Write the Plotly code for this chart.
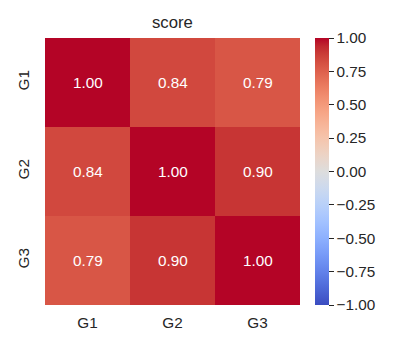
import plotly.graph_objects as go

labels = ["G1", "G2", "G3"]
scores = [
    [1.00, 0.84, 0.79],
    [0.84, 1.00, 0.90],
    [0.79, 0.90, 1.00],
]
title_text = "score"
cbar_ticks = [-1.0, -0.75, -0.5, -0.25, 0.0, 0.25, 0.5, 0.75, 1.0]

coolwarm_rgb = [
    (59, 76, 192), (68, 90, 204), (77, 104, 215), (87, 117, 225), (98, 130, 234),
    (108, 142, 241), (119, 154, 247), (130, 165, 251), (141, 176, 254), (152, 185, 255),
    (163, 194, 255), (174, 201, 253), (184, 208, 249), (194, 213, 244), (204, 217, 238),
    (213, 219, 230), (221, 221, 221), (229, 216, 209), (236, 211, 197), (241, 204, 184),
    (245, 196, 172), (247, 187, 160), (247, 177, 148), (247, 166, 135), (244, 154, 123),
    (241, 141, 111), (236, 127, 99), (229, 112, 88), (222, 96, 77), (213, 80, 66),
    (203, 62, 56), (192, 40, 47), (180, 4, 38),
]
n = len(coolwarm_rgb) - 1
colorscale = [[i / n, "rgb(%d,%d,%d)" % c] for i, c in enumerate(coolwarm_rgb)]

FONT = "Liberation Sans, Arial, sans-serif"
TXT = "#262626"
FS = 15.3

fig = go.Figure(
    go.Heatmap(
        z=scores,
        x=labels,
        y=labels,
        zmin=-1,
        zmax=1,
        colorscale=colorscale,
        texttemplate="%{z:.2f}",
        textfont=dict(family=FONT, size=FS, color="white"),
        hoverinfo="skip",
        colorbar=dict(
            x=(315 - 45) / 255,
            xanchor="left",
            xref="paper",
            xpad=0,
            ypad=0,
            y=0.5,
            yanchor="middle",
            len=1.0,
            lenmode="fraction",
            thickness=14,
            outlinewidth=0,
            ticks="outside",
            ticklen=5,
            tickwidth=1.2,
            tickcolor=TXT,
            tickvals=cbar_ticks,
            tickformat=".2f",
            tickfont=dict(family=FONT, size=FS, color=TXT),
        ),
    )
)

fig.update_layout(
    width=400,
    height=350,
    margin=dict(l=45, r=100, t=38, b=45),
    paper_bgcolor="white",
    plot_bgcolor="white",
    font=dict(family=FONT, size=FS, color=TXT),
    xaxis=dict(
        showgrid=False, zeroline=False, ticks="", showline=False,
        tickfont=dict(family=FONT, size=FS, color=TXT),
        ticklabelstandoff=7,
    ),
    yaxis=dict(
        showgrid=False, zeroline=False, ticks="", showline=False,
        autorange="reversed",
        tickangle=-90,
        tickfont=dict(family=FONT, size=FS, color=TXT),
        ticklabelstandoff=12,
    ),
    annotations=[
        dict(
            text=title_text, x=0.5, y=1, xref="paper", yref="paper",
            xanchor="center", yanchor="bottom", yshift=4, showarrow=False,
            font=dict(family=FONT, size=16.7, color=TXT),
        )
    ],
)

fig.write_html("out.html")
